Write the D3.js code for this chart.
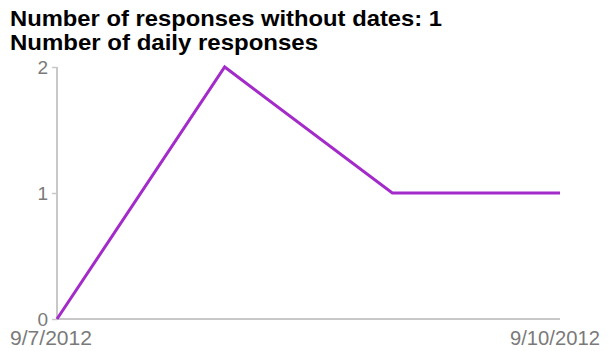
<!DOCTYPE html>
<html><head><meta charset="utf-8">
<script src="https://cdn.jsdelivr.net/npm/d3@7"></script>
<style>body{margin:0;background:#fff;}svg{display:block;}</style>
</head><body>
<svg id="c" width="611" height="351"></svg>
<script>
const titles = ["Number of responses without dates: 1", "Number of daily responses"];
const dates = ["9/7/2012", "9/8/2012", "9/9/2012", "9/10/2012"];
const counts = [0, 2, 1, 1];
const yTicks = [0, 1, 2];
const xTickLabels = ["9/7/2012", "9/10/2012"];

const svg = d3.select("#c");
const parse = d3.timeParse("%m/%d/%Y");
const x = d3.scaleTime().domain([parse(dates[0]), parse(dates[dates.length-1])]).range([57, 560]);
const y = d3.scaleLinear().domain([0, 2]).range([319, 67]);
const FONT = "Arial, 'Liberation Sans', sans-serif";

const titleLen = [432, 308];
svg.selectAll("text.title").data(titles).join("text")
  .attr("x", 10).attr("y", (d,i)=>26 + i*24)
  .attr("font-family", FONT)
  .attr("font-weight", "bold").attr("font-size", 21.5).attr("fill", "#000")
  .attr("textLength", (d,i)=>titleLen[i]).attr("lengthAdjust", "spacingAndGlyphs")
  .text(d=>d);

const yAxis = svg.append("g").attr("transform", "translate(57,0)")
  .call(d3.axisLeft(y).tickValues(yTicks).tickFormat(d3.format("d")).tickSize(5).tickPadding(4));
yAxis.select(".domain").attr("stroke", "#c8c8c8").attr("stroke-width", 2)
  .attr("d", `M0,${y(2)}V${y(0)}`);
yAxis.selectAll(".tick line").attr("stroke", "#c8c8c8").attr("stroke-width", 1.5);
yAxis.selectAll(".tick text").attr("font-family", FONT)
  .attr("font-size", 19).attr("fill", "#7a7a7a");

svg.append("line").attr("x1", 57).attr("x2", 560).attr("y1", y(0)).attr("y2", y(0))
  .attr("stroke", "#c8c8c8").attr("stroke-width", 2);

const xLen = [82, 90];
svg.selectAll("text.xl").data(xTickLabels).join("text")
  .attr("x", (d,i)=> i===0 ? 10 : 510)
  .attr("y", 345)
  .attr("font-family", FONT)
  .attr("font-size", 21).attr("fill", "#7a7a7a")
  .attr("textLength", (d,i)=>xLen[i]).attr("lengthAdjust", "spacingAndGlyphs")
  .text(d=>d);

const line = d3.line().x((d,i)=>x(parse(dates[i]))).y(d=>y(d));
svg.append("path").datum(counts).attr("d", line)
  .attr("fill", "none").attr("stroke", "#a32bc9").attr("stroke-width", 3)
  .attr("stroke-linejoin", "miter");
</script>
</body></html>
